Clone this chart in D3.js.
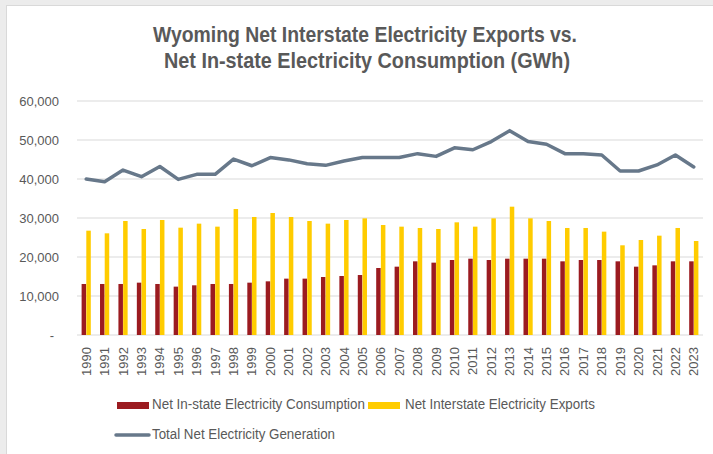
<!DOCTYPE html>
<html lang="en">
<head>
<meta charset="UTF-8">
<script src="https://cdn.jsdelivr.net/npm/d3@7"></script>
<title>Wyoming electricity</title>
<style>
  body { margin: 0; background: #ececec; }
  svg { display: block; }
</style>
</head>
<body>
<script>
  // data (GWh)
  const years = d3.range(1990, 2024).map(String)
  const consumption = [13080, 13080, 13080, 13420, 13080, 12400, 12740, 13080, 13080, 13420,
    13760, 14450, 14450, 14870, 15130, 15380, 17180, 17520, 18890, 18550,
    19230, 19570, 19230, 19570, 19570, 19570, 18890, 19230, 19230, 18890,
    17520, 17860, 18890, 18890]
  const exportsArr = [26750, 26070, 29230, 27180, 29490, 27520, 28550, 27780, 32300, 30260,
    31280, 30260, 29230, 28550, 29490, 29910, 28200, 27780, 27440, 27180,
    28890, 27780, 29910, 32900, 29910, 29230, 27440, 27440, 26500, 23000,
    24360, 25470, 27440, 24100]
  const generation = [40000, 39300, 42300, 40600, 43200, 39900, 41200, 41200, 45100, 43400,
    45500, 44900, 43900, 43500, 44600, 45500, 45500, 45500, 46500, 45800,
    48000, 47500, 49600, 52400, 49600, 48900, 46500, 46500, 46150, 42050,
    42050, 43600, 46150, 43100]
  const yTicks = [0, 10000, 20000, 30000, 40000, 50000, 60000]
  const titleLines = ["Wyoming Net Interstate Electricity Exports vs.",
                      "Net In-state Electricity Consumption (GWh)"]
  const seriesNames = ["Net In-state Electricity Consumption", "Net Interstate Electricity Exports",
                       "Total Net Electricity Generation"]

  const width = 713, height = 454
  const colRed = "#9b1b20", colYellow = "#ffcc00", colLine = "#67788a", colText = "#595959"
  // no narrow font installed: squeeze Liberation Sans with textLength
  const sans = "'Liberation Sans', Arial, sans-serif"

  const svg = d3.select("body").append("svg").attr("width", width).attr("height", height)

  // chart panel
  svg.append("rect").attr("x", 6.5).attr("y", 5.5).attr("width", width).attr("height", height)
    .attr("fill", "#fff").attr("stroke", "#d9d9d9")

  // title
  const titleW = [424, 406]
  svg.append("g").selectAll("text").data(titleLines).enter().append("text")
    .attr("x", (d, i) => i === 0 ? 153 : 164).attr("y", (d, i) => 42 + i * 26)
    .attr("textLength", (d, i) => titleW[i]).attr("lengthAdjust", "spacingAndGlyphs")
    .attr("font-family", sans).attr("font-weight", "bold").attr("font-size", 22)
    .attr("fill", colText)
    .text(d => d)

  // scales
  const x = d3.scaleBand().domain(years).range([77, 703]).paddingInner(0.48).paddingOuter(0.24)
  const xSub = d3.scaleBand().domain([0, 1]).range([0, x.bandwidth()]).padding(0.04)
  const y = d3.scaleLinear().domain([0, 60000]).range([335, 101])

  // grid
  svg.append("g").selectAll("line").data(yTicks).enter().append("line")
    .attr("x1", 77).attr("x2", 703)
    .attr("y1", d => y(d)).attr("y2", d => y(d))
    .attr("stroke", "#d9d9d9").attr("stroke-width", 1.2)

  // y axis
  const yAxis = d3.axisLeft(y).tickValues(yTicks).tickSize(0).tickPadding(18)
    .tickFormat(d => d === 0 ? "-" : d3.format(",")(d))
  const gy = svg.append("g").attr("transform", "translate(77,0)").call(yAxis)
  gy.select(".domain").remove()
  gy.selectAll("text").attr("font-family", sans)
    .attr("font-size", 13).attr("fill", colText)
  gy.selectAll(".tick").filter(d => d === 0).select("text").attr("dx", -5)

  // x axis
  const xAxis = d3.axisBottom(x).tickSize(0).tickPadding(0)
  const gx = svg.append("g").attr("transform", "translate(0,335)").call(xAxis)
  gx.select(".domain").remove()
  gx.selectAll("text")
    .attr("font-family", sans).attr("font-size", 13)
    .attr("fill", colText)
    .attr("text-anchor", "end")
    .attr("transform", "rotate(-90)")
    .attr("x", -12).attr("y", 0).attr("dy", "0.35em")
  gx.selectAll(".tick").attr("transform", d => `translate(${x(d) + x.bandwidth() / 2},0)`)

  // bars
  const rows = years.map((yr, i) => ({ yr, vals: [consumption[i], exportsArr[i]] }))
  const grp = svg.append("g").selectAll("g").data(rows).enter().append("g")
    .attr("transform", d => `translate(${x(d.yr)},0)`)
  grp.selectAll("rect").data(d => d.vals).enter().append("rect")
    .attr("x", (d, i) => xSub(i))
    .attr("width", xSub.bandwidth())
    .attr("y", d => y(d))
    .attr("height", d => y(0) - y(d))
    .attr("fill", (d, i) => i === 0 ? colRed : colYellow)

  // line
  const line = d3.line().x((d, i) => x(years[i]) + x.bandwidth() / 2).y(d => y(d))
  svg.append("path").datum(generation).attr("d", line)
    .attr("fill", "none").attr("stroke", colLine).attr("stroke-width", 3.5)
    .attr("stroke-linejoin", "round").attr("stroke-linecap", "round")

  // legend
  const lg = svg.append("g").attr("font-family", sans).attr("font-size", 14).attr("fill", colText)
  lg.append("rect").attr("x", 117).attr("y", 402).attr("width", 32).attr("height", 7).attr("fill", colRed)
  lg.append("text").attr("x", 152).attr("y", 409).attr("textLength", 213)
    .attr("lengthAdjust", "spacingAndGlyphs").text(seriesNames[0])
  lg.append("rect").attr("x", 368).attr("y", 402).attr("width", 32).attr("height", 7).attr("fill", colYellow)
  lg.append("text").attr("x", 405).attr("y", 409).attr("textLength", 190)
    .attr("lengthAdjust", "spacingAndGlyphs").text(seriesNames[1])
  lg.append("line").attr("x1", 116).attr("x2", 149).attr("y1", 435).attr("y2", 435)
    .attr("stroke", colLine).attr("stroke-width", 3.5).attr("stroke-linecap", "round")
  lg.append("text").attr("x", 152).attr("y", 439).attr("textLength", 183)
    .attr("lengthAdjust", "spacingAndGlyphs").text(seriesNames[2])
</script>
</body>
</html>
